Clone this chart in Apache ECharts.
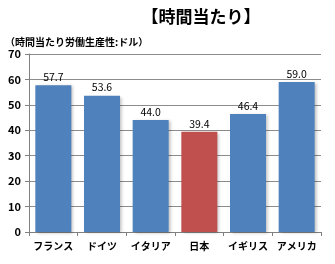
<!DOCTYPE html>
<html>
<head>
<meta charset="utf-8">
<script src="https://cdn.jsdelivr.net/npm/echarts@6/dist/echarts.min.js"></script>
<style>
  html, body { margin: 0; padding: 0; background: #fff; }
  #chart { width: 335px; height: 264px; }
</style>
</head>
<body>
<div id="chart"></div>
<script>
var categories = ["フランス", "ドイツ", "イタリア", "日本", "イギリス", "アメリカ"];
var values = [57.7, 53.6, 44.0, 39.4, 46.4, 59.0];
var barColors = ["#4f81bd", "#4f81bd", "#4f81bd", "#c0504d", "#4f81bd", "#4f81bd"];

var font = "'Noto Sans CJK JP', sans-serif";
var chart = echarts.init(document.getElementById("chart"));

chart.setOption({
  animation: false,
  textStyle: { fontFamily: font },
  title: [
    {
      text: "【時間当たり】",
      left: 196,
      textAlign: "center",
      top: 3,
      textStyle: { fontSize: 17, fontWeight: "bold", color: "#000", fontFamily: font }
    },
    {
      text: "（時間当たり労働生産性:ドル）",
      left: 0,
      top: 32,
      textStyle: { fontSize: 10, fontWeight: "bold", color: "#000", fontFamily: font }
    }
  ],
  grid: { left: 29, right: 14, top: 54, bottom: 32 },
  xAxis: {
    type: "category",
    data: categories,
    axisLine: { lineStyle: { color: "#808080" } },
    axisTick: { show: true, length: 4, lineStyle: { color: "#808080" } },
    axisLabel: { interval: 0, color: "#000", fontSize: 10, fontWeight: "bold", margin: 9 }
  },
  yAxis: {
    type: "value",
    min: 0,
    max: 70,
    interval: 10,
    axisLine: { show: true, lineStyle: { color: "#808080" } },
    axisTick: { show: true, length: 4, inside: false, lineStyle: { color: "#808080" } },
    axisLabel: { color: "#000", fontSize: 11, fontWeight: "bold", margin: 8 },
    splitLine: { lineStyle: { color: "#8c8c8c" } }
  },
  series: [{
    type: "bar",
    barWidth: "74%",
    data: values.map(function (v, i) {
      return { value: v, itemStyle: { color: barColors[i] } };
    }),
    itemStyle: {
      shadowColor: "rgba(0,0,0,0.25)",
      shadowBlur: 3,
      shadowOffsetX: 2,
      shadowOffsetY: 1
    },
    label: {
      show: true,
      position: "top",
      distance: 3,
      color: "#000",
      fontSize: 10.5,
      formatter: function (p) { return p.value.toFixed(1); }
    }
  }]
});
</script>
</body>
</html>
